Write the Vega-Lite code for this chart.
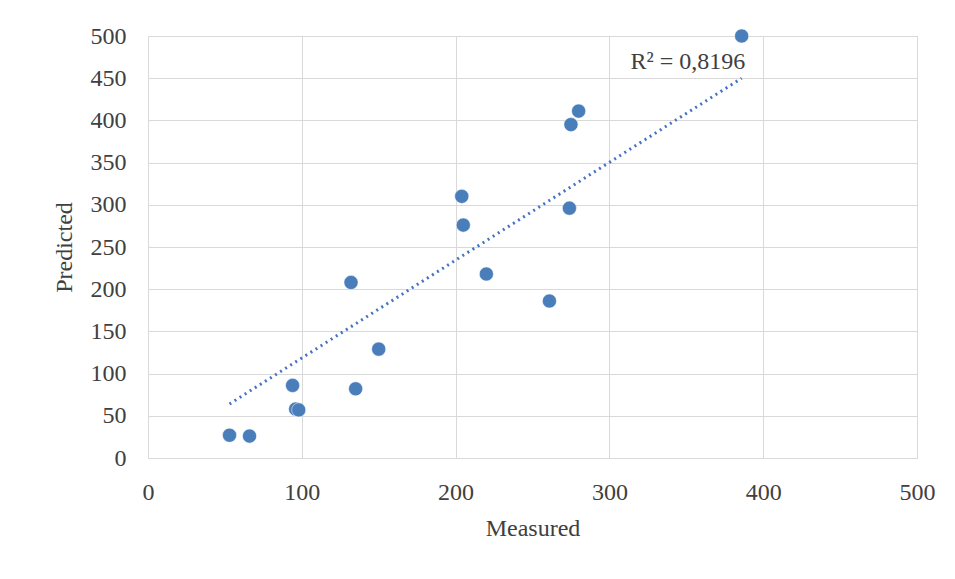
{
  "$schema": "https://vega.github.io/schema/vega-lite/v6.json",
  "autosize": "none",
  "width": 769,
  "height": 422,
  "padding": {"left": 148, "top": 36, "right": 38, "bottom": 121},
  "background": "white",
  "config": {
    "font": "Liberation Serif",
    "view": {"stroke": "#d9d9d9"},
    "axis": {"labelFont": "Liberation Serif", "titleFont": "Liberation Serif", "labelFontSize": 24, "titleFontSize": 24, "labelColor": "#404040", "titleColor": "#404040", "titleFontWeight": "normal", "gridColor": "#d9d9d9", "ticks": false, "domain": false, "labelFlush": false}
  },
  "datasets": {
    "trend": [
      {"Measured": 53, "Predicted": 64},
      {"Measured": 386, "Predicted": 450}
    ]
  },
  "data": {"values": [
    {"Measured": 53, "Predicted": 27},
    {"Measured": 66, "Predicted": 26},
    {"Measured": 94, "Predicted": 86},
    {"Measured": 96, "Predicted": 58},
    {"Measured": 98, "Predicted": 57},
    {"Measured": 132, "Predicted": 208},
    {"Measured": 135, "Predicted": 82},
    {"Measured": 150, "Predicted": 129},
    {"Measured": 204, "Predicted": 310},
    {"Measured": 205, "Predicted": 276},
    {"Measured": 220, "Predicted": 218},
    {"Measured": 261, "Predicted": 186},
    {"Measured": 274, "Predicted": 296},
    {"Measured": 275, "Predicted": 395},
    {"Measured": 280, "Predicted": 411},
    {"Measured": 386, "Predicted": 500}
  ]},
  "layer": [
    {
      "data": {"name": "trend"},
      "mark": {"type": "line", "color": "#4472c4", "strokeWidth": 3, "strokeDash": [2, 4]},
      "encoding": {
        "x": {"field": "Measured", "type": "quantitative"},
        "y": {"field": "Predicted", "type": "quantitative"}
      }
    },
    {
      "mark": {"type": "circle", "size": 200, "opacity": 1, "color": "#4a7ebb", "stroke": "white", "strokeWidth": 0.5},
      "encoding": {
        "x": {"field": "Measured", "type": "quantitative", "title": "Measured", "scale": {"domain": [0, 500]}, "axis": {"values": [0, 100, 200, 300, 400, 500], "labelPadding": 22, "titlePadding": 12}},
        "y": {"field": "Predicted", "type": "quantitative", "title": "Predicted", "scale": {"domain": [0, 500]}, "axis": {"values": [0, 50, 100, 150, 200, 250, 300, 350, 400, 450, 500], "labelPadding": 22, "titlePadding": 14}}
      }
    },
    {
      "data": {"values": [{"x": 351, "y": 469, "t": "R² = 0,8196"}]},
      "mark": {"type": "text", "fontSize": 24, "font": "Liberation Serif", "color": "#404040"},
      "encoding": {
        "x": {"field": "x", "type": "quantitative"},
        "y": {"field": "y", "type": "quantitative"},
        "text": {"field": "t"}
      }
    }
  ]
}
